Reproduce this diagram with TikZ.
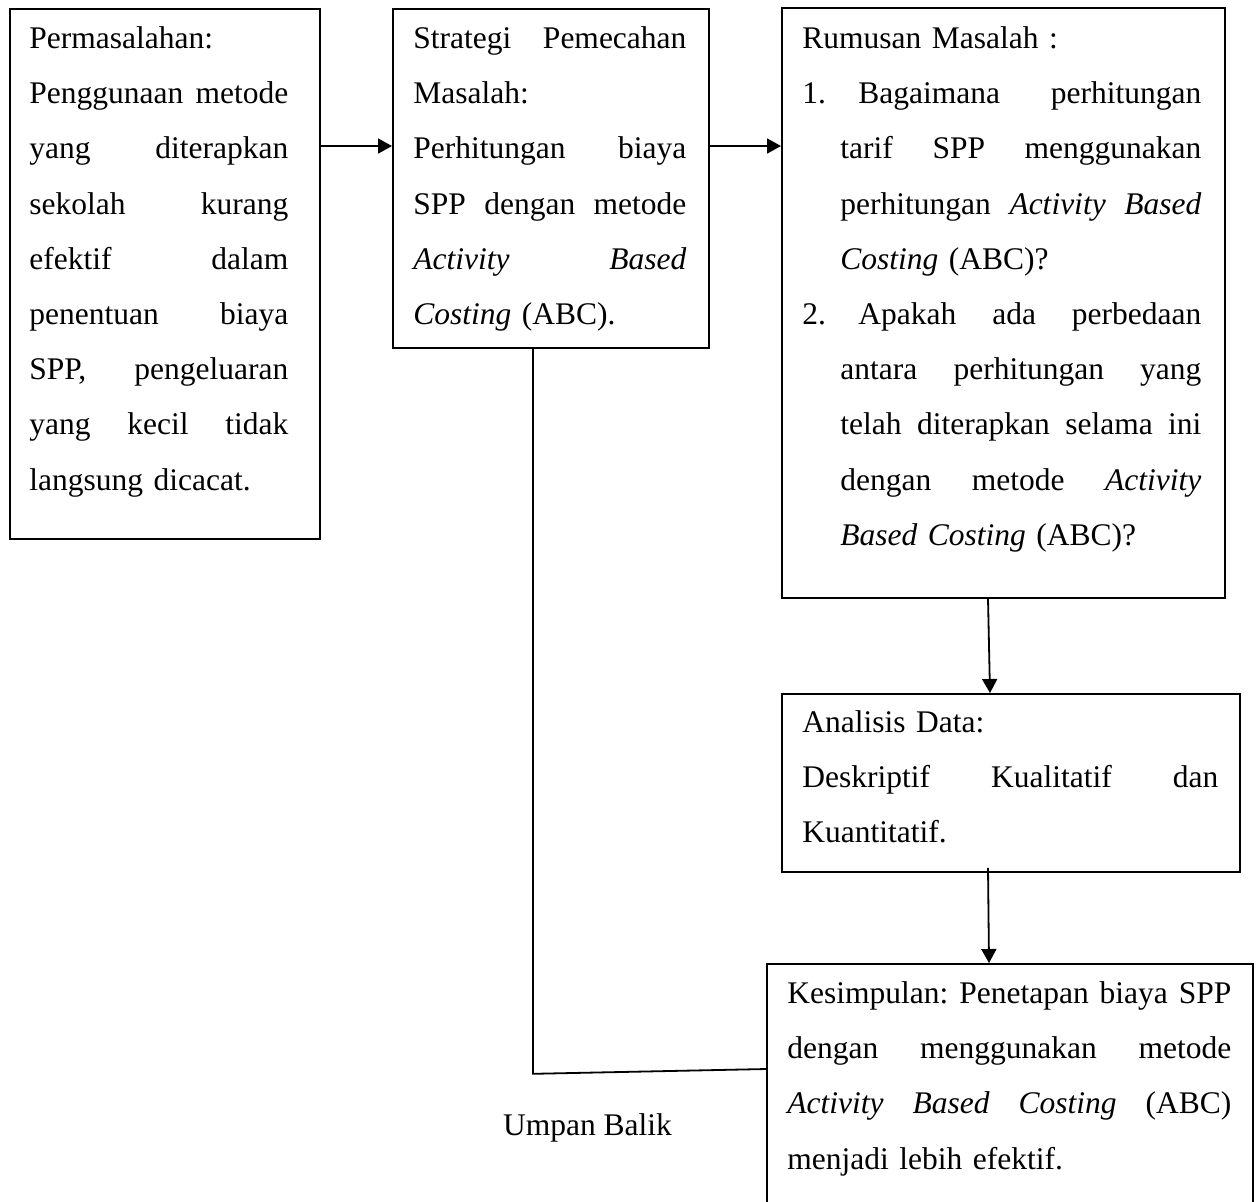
\documentclass[tikz,border=0pt]{standalone}
\usepackage{fontspec}
\setmainfont{Liberation Serif}
\usetikzlibrary{arrows.meta,calc}
\setlength{\parindent}{0pt}
\newcommand{\jl}[2]{\leavevmode\hbox to #1{#2}}
\newcommand{\J}{\hfill}
\newcommand{\firstl}{\rule{0pt}{16pt}}
\begin{document}
\begin{tikzpicture}[x=0.5pt,y=-0.5pt,
  box/.style={draw,line width=0.9pt,rectangle,inner sep=0pt,anchor=north west},
  txt/.style={inner sep=0pt,anchor=north west,align=left,
    font=\fontsize{15.75pt}{27.6pt}\selectfont},
  arr/.style={line width=0.9pt,-{Triangle[length=7pt,width=7.5pt]}},
  ln/.style={line width=0.9pt}]
\useasboundingbox (0,0) rectangle (1256,1201);
% boxes
\node[box,minimum width=155pt,minimum height=265pt] (b1) at (9,8) {};
\node[box,minimum width=158pt,minimum height=169.5pt] (b2) at (392,8) {};
\node[box,minimum width=221.5pt,minimum height=295pt] (b3) at (781,7) {};
\node[box,minimum width=229pt,minimum height=89pt] (b4) at (781,693) {};
\node[box,minimum width=243pt,minimum height=130pt] (b5) at (766,963) {};
% texts
\node[txt,text width=129.5pt] (t1) at (29,16) {\firstl Permasalahan:\\
\jl{129.5pt}{Penggunaan\J metode}\\
\jl{129.5pt}{yang\J diterapkan}\\
\jl{129.5pt}{sekolah\J kurang}\\
\jl{129.5pt}{efektif\J dalam}\\
\jl{129.5pt}{penentuan\J biaya}\\
\jl{129.5pt}{SPP,\J pengeluaran}\\
\jl{129.5pt}{yang\J kecil\J tidak}\\
langsung dicacat.};
\node[txt,text width=136.5pt] (t2) at (413,16) {\firstl\jl{136.5pt}{Strategi\J Pemecahan}\\
Masalah:\\
\jl{136.5pt}{Perhitungan\J biaya}\\
\jl{136.5pt}{SPP\J dengan\J metode}\\
\jl{136.5pt}{\textit{Activity}\J\textit{Based}}\\
\textit{Costing} (ABC).};
\node[txt,text width=199.5pt] (t3) at (802,16) {\firstl Rumusan Masalah :\\
\makebox[19pt][l]{1.}\hspace{9pt}\jl{171.5pt}{Bagaimana\J perhitungan}\\
\hspace*{19pt}\jl{180.5pt}{tarif\J SPP\J menggunakan}\\
\hspace*{19pt}\jl{180.5pt}{perhitungan\J\textit{Activity}\J\textit{Based}}\\
\hspace*{19pt}\textit{Costing} (ABC)?\\
\makebox[19pt][l]{2.}\hspace{9pt}\jl{171.5pt}{Apakah\J ada\J perbedaan}\\
\hspace*{19pt}\jl{180.5pt}{antara\J perhitungan\J yang}\\
\hspace*{19pt}\jl{180.5pt}{telah\J diterapkan\J selama\J ini}\\
\hspace*{19pt}\jl{180.5pt}{dengan\J metode\J\textit{Activity}}\\
\hspace*{19pt}\textit{Based Costing} (ABC)?};
\node[txt,text width=208pt] (t4) at (802,700) {\firstl Analisis Data:\\
\jl{208pt}{Deskriptif\J Kualitatif\J dan}\\
Kuantitatif.};
\node[txt,text width=222pt] (t5) at (787,971) {\firstl\jl{222pt}{Kesimpulan:\J Penetapan\J biaya\J SPP}\\
\jl{222pt}{dengan\J menggunakan\J metode}\\
\jl{222pt}{\textit{Activity}\J\textit{Based}\J\textit{Costing}\J(ABC)}\\
menjadi lebih efektif.};
\node[inner sep=0pt,anchor=base,font=\fontsize{15.75pt}{27.6pt}\selectfont] (ub) at (587.5,1135) {Umpan Balik};
% connectors
\draw[arr] ($(b1.north east)+(0,138)$) -- ($(b2.north west)+(0,138)$);
\draw[arr] ($(b2.north east)+(0,138)$) -- ($(b3.north west)+(0,139)$);
\draw[arr] ($(b3.south west)+(207,0)$) -- ($(b4.north west)+(209,0)$);
\draw[arr] ($(b4.south west)+(207,-5)$) -- ($(b5.north west)+(223,0)$);
\coordinate (fb) at ($(b2.south west)+(141,725)$);
\draw[ln] ($(b2.south west)+(141,0)$) -- (fb) -- ($(b5.north west)+(0,106)$);
\end{tikzpicture}
\end{document}
